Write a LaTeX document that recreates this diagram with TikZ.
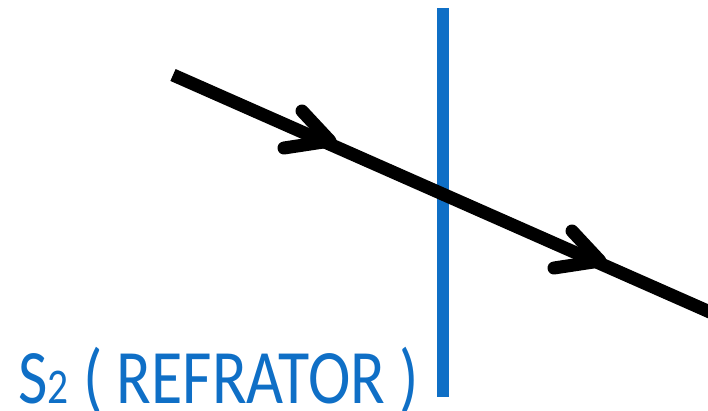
\documentclass[tikz,border=0pt]{standalone}
\usepackage{fontspec}
\setmainfont{Carlito}
\definecolor{refblue}{RGB}{15,111,198}
\begin{document}
\begin{tikzpicture}[x=1pt,y=-1pt,
  ray/.style={line width=13pt,black},
  chev/.style={line width=13pt,black,line cap=round,line join=round},
  screen/.style={line width=12pt,refblue},
  lbl/.style={anchor=base west,inner sep=0pt,text=refblue,font=\fontsize{77}{80}\selectfont}]
\useasboundingbox (0,0) rectangle (708,411);
\coordinate (T) at (443,8);
\coordinate (Bt) at (443,397);
\coordinate (A) at (173,75);
\coordinate (B) at (720,316.5);
\coordinate (h1a) at (302,111);
\coordinate (h1t) at (330,141);
\coordinate (h1b) at (284,148);
\coordinate (h2a) at (572,231);
\coordinate (h2t) at (600,261);
\coordinate (h2b) at (554,268);
\draw[screen] (T) -- (Bt);
\draw[ray] (A) -- (B);
\draw[chev] (h1a) -- (h1t) -- (h1b);
\draw[chev] (h2a) -- (h2t) -- (h2b);
\node[lbl] (label) at (18,403) {\scalebox{0.83}[1]{S{\fontsize{50}{52}\selectfont 2} ( REFRATOR )}};
\end{tikzpicture}
\end{document}
